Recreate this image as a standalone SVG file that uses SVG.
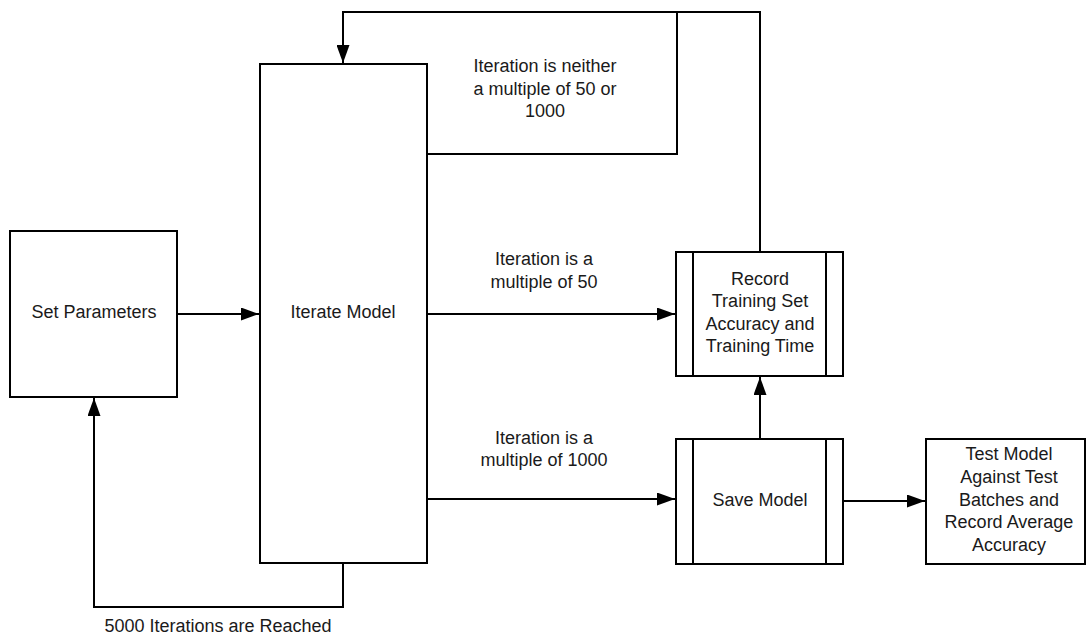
<svg xmlns="http://www.w3.org/2000/svg" width="1086" height="636" viewBox="0 0 1086 636">
<defs>
<style>
.box{fill:#fff;stroke:#000;stroke-width:2}
.ln{fill:none;stroke:#000;stroke-width:2}
.t{font-family:"Liberation Sans",Arial,sans-serif;font-size:18px;fill:#1a1a1a;text-anchor:middle}
</style>
<marker id="ah" viewBox="0 0 18 13" refX="18" refY="6.5" markerWidth="18" markerHeight="13" markerUnits="userSpaceOnUse" orient="auto">
<path d="M0,0 L18,6.5 L0,13 Z" fill="#000"/>
</marker>
</defs>
<rect width="1086" height="636" fill="#fff"/>
<g id="connectors">
<polyline class="ln" points="760,252 760,12 343,12 343,63" marker-end="url(#ah)"/>
<polyline class="ln" points="427,154 677,154 677,12"/>
<line class="ln" x1="177" y1="314" x2="259" y2="314" marker-end="url(#ah)"/>
<line class="ln" x1="427" y1="314" x2="675" y2="314" marker-end="url(#ah)"/>
<line class="ln" x1="427" y1="499" x2="675" y2="499" marker-end="url(#ah)"/>
<line class="ln" x1="760" y1="439" x2="760" y2="377" marker-end="url(#ah)"/>
<line class="ln" x1="843" y1="501" x2="925" y2="501" marker-end="url(#ah)"/>
<polyline class="ln" points="343,563 343,607 94,607 94,398" marker-end="url(#ah)"/>
<text class="t" x="545" y="72">Iteration is neither</text>
<text class="t" x="545" y="95">a multiple of 50 or</text>
<text class="t" x="545" y="117">1000</text>
<text class="t" x="544" y="265">Iteration is a</text>
<text class="t" x="544" y="288">multiple of 50</text>
<text class="t" x="544" y="444">Iteration is a</text>
<text class="t" x="544" y="466">multiple of 1000</text>
<text class="t" x="218" y="632">5000 Iterations are Reached</text>
</g>
<g id="set-parameters">
<rect class="box" x="10" y="231" width="167" height="166"/>
<text class="t" x="94" y="318">Set Parameters</text>
</g>
<g id="iterate-model">
<rect class="box" x="260" y="64" width="167" height="499"/>
<text class="t" x="343" y="318">Iterate Model</text>
</g>
<g id="record-training">
<rect class="box" x="676" y="252" width="167" height="124"/>
<line class="ln" x1="693" y1="252" x2="693" y2="376"/>
<line class="ln" x1="826" y1="252" x2="826" y2="376"/>
<text class="t" x="760" y="285">Record</text>
<text class="t" x="760" y="307">Training Set</text>
<text class="t" x="760" y="330">Accuracy and</text>
<text class="t" x="760" y="352">Training Time</text>
</g>
<g id="save-model">
<rect class="box" x="676" y="439" width="167" height="125"/>
<line class="ln" x1="693" y1="439" x2="693" y2="564"/>
<line class="ln" x1="826" y1="439" x2="826" y2="564"/>
<text class="t" x="760" y="506">Save Model</text>
</g>
<g id="test-model">
<rect class="box" x="926" y="439" width="159" height="125"/>
<text class="t" x="1009" y="460">Test Model</text>
<text class="t" x="1009" y="483">Against Test</text>
<text class="t" x="1009" y="506">Batches and</text>
<text class="t" x="1009" y="528">Record Average</text>
<text class="t" x="1009" y="551">Accuracy</text>
</g>
</svg>
